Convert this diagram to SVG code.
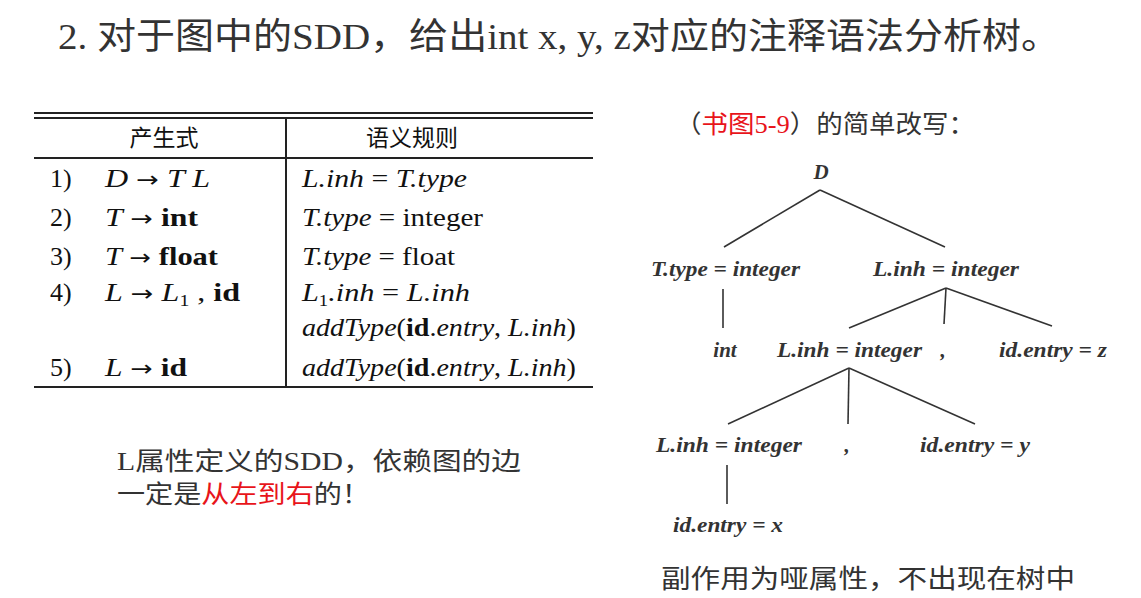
<svg xmlns="http://www.w3.org/2000/svg" width="1141" height="598" viewBox="0 0 1141 598">
<style>
.cjk{font-family:"Liberation Serif","Noto Sans CJK SC",serif;fill:#333}
.red{fill:#e8141a}
.tb{font-family:"Liberation Serif",serif;font-size:26px;fill:#111}
.it{font-style:italic}
.bd{font-weight:bold}
.ar{font-family:"DejaVu Sans",sans-serif;font-size:22px}
.hd{font-family:"Noto Sans CJK SC",sans-serif;font-size:23px;fill:#111}
.nd{font-family:"Liberation Serif",serif;font-size:21px;font-style:italic;font-weight:bold;fill:#333}
.rule{stroke:#222;stroke-width:2;fill:none}
.edge{stroke:#333;stroke-width:1.6;fill:none}
</style>
<rect width="1141" height="598" fill="#fff"/>
<text class="cjk" x="58" y="49" font-size="36" textLength="1002" lengthAdjust="spacingAndGlyphs">2. 对于图中的SDD，给出int x, y, z对应的注释语法分析树。</text>

<g id="table">
<line class="rule" x1="34" y1="113" x2="593" y2="113"/>
<line class="rule" x1="34" y1="118" x2="593" y2="118"/>
<line class="rule" x1="34" y1="158" x2="593" y2="158"/>
<line class="rule" x1="34" y1="387" x2="593" y2="387"/>
<line class="rule" x1="286" y1="118" x2="286" y2="387"/>
<text class="hd" x="164" y="146" text-anchor="middle">产生式</text>
<text class="hd" x="412" y="146" text-anchor="middle">语义规则</text>
<text class="tb" x="50" y="187">1)</text>
<text class="tb" x="50" y="226">2)</text>
<text class="tb" x="50" y="265">3)</text>
<text class="tb" x="50" y="301">4)</text>
<text class="tb" x="50" y="376">5)</text>
<text class="tb" x="105" y="187" textLength="105" lengthAdjust="spacingAndGlyphs"><tspan class="it">D</tspan> <tspan class="ar">→</tspan> <tspan class="it">T L</tspan></text>
<text class="tb" x="105" y="226" textLength="93" lengthAdjust="spacingAndGlyphs"><tspan class="it">T</tspan> <tspan class="ar">→</tspan> <tspan class="bd">int</tspan></text>
<text class="tb" x="105" y="265" textLength="113" lengthAdjust="spacingAndGlyphs"><tspan class="it">T</tspan> <tspan class="ar">→</tspan> <tspan class="bd">float</tspan></text>
<text class="tb" x="105" y="301" textLength="135" lengthAdjust="spacingAndGlyphs"><tspan class="it">L</tspan> <tspan class="ar">→</tspan> <tspan class="it">L</tspan><tspan font-size="16" dy="5">1</tspan><tspan dy="-5"> , </tspan><tspan class="bd">id</tspan></text>
<text class="tb" x="105" y="376" textLength="82" lengthAdjust="spacingAndGlyphs"><tspan class="it">L</tspan> <tspan class="ar">→</tspan> <tspan class="bd">id</tspan></text>
<text class="tb" x="302" y="187" textLength="165" lengthAdjust="spacingAndGlyphs"><tspan class="it">L.inh</tspan> = <tspan class="it">T.type</tspan></text>
<text class="tb" x="302" y="226" textLength="181" lengthAdjust="spacingAndGlyphs"><tspan class="it">T.type</tspan> = integer</text>
<text class="tb" x="302" y="265" textLength="153" lengthAdjust="spacingAndGlyphs"><tspan class="it">T.type</tspan> = float</text>
<text class="tb" x="302" y="301" textLength="168" lengthAdjust="spacingAndGlyphs"><tspan class="it">L</tspan><tspan font-size="16" dy="5">1</tspan><tspan class="it" dy="-5">.inh</tspan> = <tspan class="it">L.inh</tspan></text>
<text class="tb" x="302" y="336" textLength="274" lengthAdjust="spacingAndGlyphs"><tspan class="it">addType</tspan>(<tspan class="bd">id</tspan>.<tspan class="it">entry</tspan>, <tspan class="it">L.inh</tspan>)</text>
<text class="tb" x="302" y="376" textLength="274" lengthAdjust="spacingAndGlyphs"><tspan class="it">addType</tspan>(<tspan class="bd">id</tspan>.<tspan class="it">entry</tspan>, <tspan class="it">L.inh</tspan>)</text>
</g>

<g id="note-left">
<text class="cjk" x="117" y="470" font-size="25" textLength="404" lengthAdjust="spacingAndGlyphs">L属性定义的SDD，依赖图的边</text>
<text class="cjk" x="117" y="503" font-size="25" textLength="253" lengthAdjust="spacingAndGlyphs">一定是<tspan class="red">从左到右</tspan>的！</text>
</g>

<g id="caption">
<text class="cjk" x="675" y="133" font-size="25" textLength="300" lengthAdjust="spacingAndGlyphs">（<tspan class="red">书图5-9</tspan>）的简单改写：</text>
</g>

<g id="connectors">
<line class="edge" x1="820" y1="190" x2="724" y2="247"/>
<line class="edge" x1="820" y1="190" x2="945" y2="247"/>
<line class="edge" x1="723" y1="289" x2="723" y2="328"/>
<line class="edge" x1="946" y1="288" x2="849" y2="328"/>
<line class="edge" x1="946" y1="288" x2="944" y2="324"/>
<line class="edge" x1="946" y1="288" x2="1052" y2="326"/>
<line class="edge" x1="849" y1="368" x2="728" y2="424"/>
<line class="edge" x1="849" y1="368" x2="848" y2="424"/>
<line class="edge" x1="849" y1="368" x2="975" y2="424"/>
<line class="edge" x1="727" y1="465" x2="727" y2="504"/>
</g>

<g id="n-D"><text class="nd" x="821" y="179" text-anchor="middle">D</text></g>
<g id="n-T"><text class="nd" x="651" y="276" textLength="149" lengthAdjust="spacingAndGlyphs">T.type = integer</text></g>
<g id="n-L0"><text class="nd" x="873" y="276" textLength="146" lengthAdjust="spacingAndGlyphs">L.inh = integer</text></g>
<g id="n-int"><text class="nd" x="725" y="357" text-anchor="middle">int</text></g>
<g id="n-L1"><text class="nd" x="777" y="357" textLength="145" lengthAdjust="spacingAndGlyphs">L.inh = integer</text></g>
<g id="n-comma1"><text class="nd" x="943" y="357" text-anchor="middle">,</text></g>
<g id="n-z"><text class="nd" x="999" y="357" textLength="108" lengthAdjust="spacingAndGlyphs">id.entry = z</text></g>
<g id="n-L2"><text class="nd" x="656" y="452" textLength="146" lengthAdjust="spacingAndGlyphs">L.inh = integer</text></g>
<g id="n-comma2"><text class="nd" x="847" y="452" text-anchor="middle">,</text></g>
<g id="n-y"><text class="nd" x="920" y="452" textLength="110" lengthAdjust="spacingAndGlyphs">id.entry = y</text></g>
<g id="n-x"><text class="nd" x="673" y="532" textLength="110" lengthAdjust="spacingAndGlyphs">id.entry = x</text></g>

<g id="note-bottom">
<text class="cjk" x="661" y="588" font-size="26" textLength="414" lengthAdjust="spacingAndGlyphs">副作用为哑属性，不出现在树中</text>
</g>
</svg>
